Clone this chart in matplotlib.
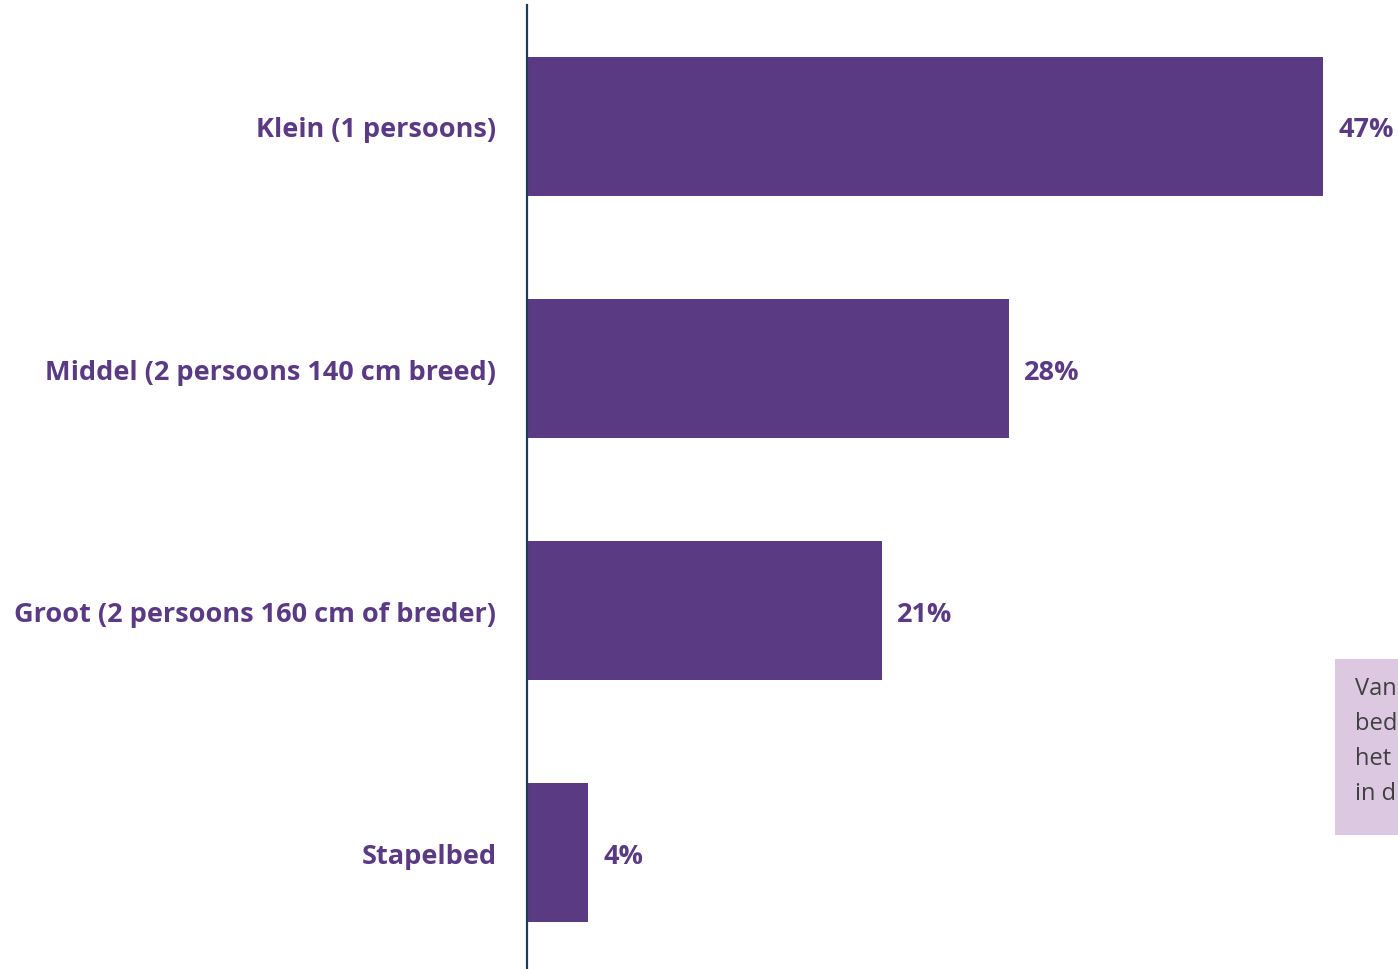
import matplotlib
matplotlib.use("Agg")
import matplotlib.pyplot as plt
from matplotlib.patches import Rectangle

categories = ["Klein (1 persoons)", "Middel (2 persoons 140 cm breed)",
              "Groot (2 persoons 160 cm of breder)", "Stapelbed"]
values = [47.0, 28.45, 20.95, 3.6]
note_lines = ["Van", "bed", "het", "in d"]

PURPLE = "#5b3a84"
AXIS = "#1f3a5c"
W, H = 1398, 970
fig = plt.figure(figsize=(W / 100, H / 100), dpi=100)
ax = fig.add_axes([527 / W, 0, 1 - 527 / W, 1 - 6 / H])

ypos = list(range(len(categories)))
ax.barh(ypos, values, height=0.574, color=PURPLE, edgecolor="none")
ax.set_xlim(0, (W - 527) / 16.94)
ax.set_ylim(3.481, -0.502)
for s in ["top", "right", "bottom"]:
    ax.spines[s].set_visible(False)
ax.spines["left"].set_color(AXIS)
ax.spines["left"].set_linewidth(1.6)
ax.set_xticks([])
ax.set_yticks(ypos)
ax.set_yticklabels(categories, fontfamily="Open Sans", fontweight="bold",
                   fontsize=19.5, color=PURPLE, va="center_baseline")
ax.tick_params(axis="y", length=0, pad=22)

for y, v in zip(ypos, values):
    ax.annotate(f"{v:.0f}%", (v, y), xytext=(11, 0), textcoords="offset points",
                va="center_baseline", ha="left", fontfamily="Open Sans",
                fontweight="bold", fontsize=19.5, color=PURPLE)

fig.patches.append(Rectangle((1335 / W, 1 - 836 / H), 100 / W, 176 / H,
                             transform=fig.transFigure, facecolor="#dcc8e0",
                             edgecolor="none"))
for i, line in enumerate(note_lines):
    fig.text(1355 / W, 1 - (689 + 35 * i) / H, line, fontfamily="Open Sans",
             fontsize=17, color="#404040", va="center", ha="left")

fig.savefig("out.png", dpi=100)
